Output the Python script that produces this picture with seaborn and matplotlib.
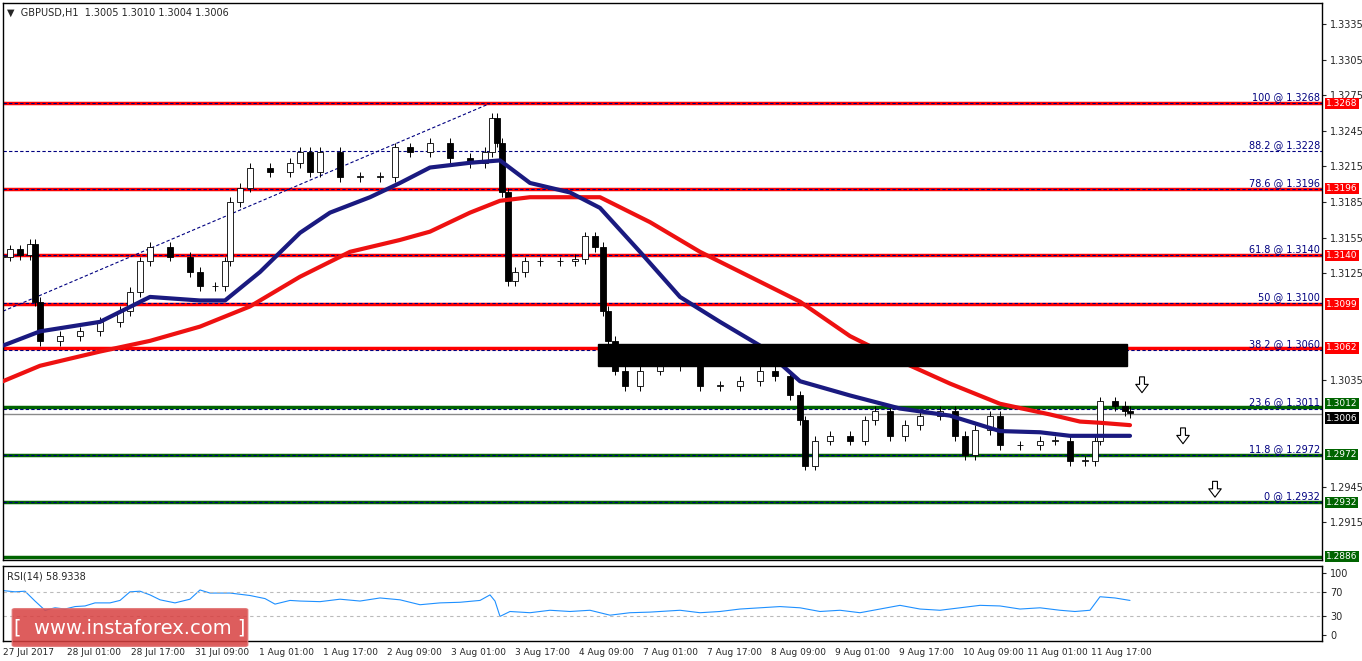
import numpy as np
import pandas as pd
import matplotlib
matplotlib.use("Agg")
import matplotlib.pyplot as plt
from matplotlib.patches import Rectangle, FancyBboxPatch
import seaborn as sns

sns.set_style("white")
plt.rcParams['font.family'] = ['DejaVu Sans']

# ---- data (x in hourly bars from 27 Jul 2017) ----
price_px_x = [3,10,20,30,35,40,60,80,100,120,130,140,150,170,190,200,215,225,230,240,250,270,290,300,310,320,340,360,380,395,410,430,450,470,485,492,497,502,508,515,525,540,560,575,585,595,603,608,615,625,640,660,680,700,720,740,760,775,790,800,805,815,830,850,865,875,890,905,920,940,955,965,975,990,1000,1020,1040,1055,1070,1085,1095,1100,1115,1125,1130]
closes = [1.3139,1.3145,1.3140,1.3150,1.3101,1.3068,1.3072,1.3076,1.3084,1.3093,1.3109,1.3135,1.3147,1.3139,1.3126,1.3114,1.3114,1.3135,1.3185,1.3197,1.3214,1.3210,1.3218,1.3227,1.3210,1.3227,1.3206,1.3206,1.3206,1.3231,1.3227,1.3235,1.3222,1.3218,1.3227,1.3256,1.3235,1.3193,1.3118,1.3126,1.3135,1.3135,1.3135,1.3137,1.3156,1.3147,1.3093,1.3068,1.3043,1.3030,1.3043,1.3051,1.3047,1.3030,1.3030,1.3034,1.3043,1.3038,1.3022,1.3001,1.2963,1.2984,1.2988,1.2984,1.3001,1.3009,1.2988,1.2997,1.3005,1.3009,1.2988,1.2972,1.2993,1.3005,1.2980,1.2980,1.2984,1.2984,1.2967,1.2967,1.2984,1.3017,1.3013,1.3009,1.3007]
ma_blue_x = [3,40,100,150,200,225,260,300,330,370,400,430,470,500,530,570,600,640,680,720,760,800,850,900,950,1000,1040,1070,1100,1130]
ma_blue = [1.3064,1.3076,1.3084,1.3105,1.3102,1.3102,1.3126,1.3159,1.3176,1.3189,1.3201,1.3214,1.3218,1.3220,1.3201,1.3193,1.3180,1.3143,1.3105,1.3084,1.3064,1.3034,1.3022,1.3011,1.3005,1.2992,1.2991,1.2988,1.2988,1.2988]
ma_red_x = [3,40,100,150,200,250,300,350,400,430,470,500,530,570,600,650,700,750,800,850,900,950,1000,1050,1080,1100,1130]
ma_red = [1.3034,1.3047,1.3059,1.3068,1.3080,1.3097,1.3122,1.3143,1.3153,1.3160,1.3176,1.3186,1.3189,1.3189,1.3189,1.3168,1.3143,1.3122,1.3101,1.3072,1.3051,1.3032,1.3015,1.3006,1.3000,1.2999,1.2997]
rsi_px_x = [3,15,25,35,45,55,65,75,85,95,110,120,130,140,150,160,175,190,200,210,230,250,265,275,290,300,320,340,360,380,400,420,440,460,480,490,495,500,510,530,550,570,590,600,610,620,630,650,680,700,720,740,760,780,800,820,840,860,880,900,920,940,960,980,1000,1020,1040,1060,1075,1090,1100,1115,1130]
rsi = [72,70,71,55,40,44,42,46,47,52,52,56,70,71,65,57,52,58,73,68,68,64,59,50,56,55,54,58,55,60,57,49,52,53,56,65,55,30,38,36,40,38,40,36,32,34,36,37,40,36,38,42,44,46,44,38,40,36,42,48,42,40,44,48,47,42,44,40,38,40,62,60,56]
tick_labels = ["27 Jul 2017","28 Jul 01:00","28 Jul 17:00","31 Jul 09:00","1 Aug 01:00","1 Aug 17:00","2 Aug 09:00","3 Aug 01:00","3 Aug 17:00","4 Aug 09:00","7 Aug 01:00","7 Aug 17:00","8 Aug 09:00","9 Aug 01:00","9 Aug 17:00","10 Aug 09:00","11 Aug 01:00","11 Aug 17:00"]
red_levels = [1.3268,1.3196,1.3140,1.3099,1.3062]
green_levels = [1.3012,1.2972,1.2932,1.2886]
fib_levels = [1.3268,1.3228,1.3196,1.3140,1.3100,1.3060,1.3011,1.2972,1.2932]
fib_pcts = ["100","88.2","78.6","61.8","50","38.2","23.6","11.8","0"]
last_price = 1.3006

bar = lambda px: (np.asarray(px) - 3) / 4.0
W, H = 1362, 661
fig = plt.figure(figsize=(W/100, H/100), dpi=100)
ax = fig.add_axes([3/W, 1-560/H, 1319/W, 557/H])
ax2 = fig.add_axes([3/W, 1-641/H, 1319/W, 75/H])
XMAX = 329.75

# candles
xb = bar(price_px_x)
opens = [closes[0]] + closes[:-1]
for x, o, c in zip(xb, opens, closes):
    lo, hi = min(o, c), max(o, c)
    ax.vlines(x, lo - 0.0004, hi + 0.0004, color="black", lw=0.7, zorder=3)
    ax.add_patch(Rectangle((x-0.7, lo), 1.4, max(hi-lo, 0.00005),
                           facecolor="white" if c >= o else "black", edgecolor="black", lw=0.6, zorder=4))

df_b = pd.DataFrame({"x": bar(ma_blue_x), "y": ma_blue})
df_r = pd.DataFrame({"x": bar(ma_red_x), "y": ma_red})
sns.lineplot(data=df_r, x="x", y="y", ax=ax, color="#ee1111", lw=3, zorder=5)
sns.lineplot(data=df_b, x="x", y="y", ax=ax, color="#1a1a80", lw=3, zorder=6)

for lv in red_levels:
    ax.axhline(lv, color="#ff0000", lw=2.5, zorder=2)
for lv in green_levels:
    ax.axhline(lv, color="#006400", lw=2.5, zorder=2)
ax.axhline(last_price, color="#8a8a8a", lw=1, zorder=1)
for lv, p in zip(fib_levels, fib_pcts):
    ax.axhline(lv, color="#000080", lw=0.8, ls=(0, (3, 2)), zorder=2)
    ax.text(bar(1320), lv + 0.0001, f"{p} @ {lv:.4f}", ha="right", va="bottom", fontsize=7, color="#000080", zorder=8)
ax.plot(bar([3, 490]), [1.3093, 1.3268], color="#000080", lw=0.8, ls=(0, (3, 2)))

ax.add_patch(Rectangle((bar(598), 1.30468), bar(1127)-bar(598), 1.30652-1.30468, color="black", zorder=7))

# arrows
for px, py in [(1142, 1.3030), (1183, 1.2987), (1215, 1.2942)]:
    ax.annotate("", xy=(bar(px), py - 0.0008), xytext=(bar(px), py + 0.0010),
                arrowprops=dict(arrowstyle="simple,head_width=0.9,head_length=0.6,tail_width=0.35",
                                facecolor="white", edgecolor="black", lw=0.8))

ax.set_xlim(0, XMAX)
ax.set_ylim(1.28834, 1.33526)
ax.set_xticks([])
ax.yaxis.tick_right()
yt = [1.3335,1.3305,1.3275,1.3245,1.3215,1.3185,1.3155,1.3125,1.3035,1.2945,1.2915]
ax.set_yticks(yt)
ax.set_yticklabels([f"{v:.4f}" for v in yt], fontsize=7)
ax.tick_params(axis="y", length=3, pad=3)
ax.set_xlabel(""); ax.set_ylabel("")
for lv, col in [(l, "#ff0000") for l in red_levels] + [(l, "#006400") for l in green_levels] + [(last_price, "black")]:
    yy = lv + (0.00035 if lv == 1.3012 else (-0.0003 if lv == last_price else 0))
    ax.text(1.003, yy, f"{lv:.4f}", transform=ax.get_yaxis_transform(), va="center", ha="left",
            fontsize=6.5, color="white", bbox=dict(boxstyle="square,pad=0.12", fc=col, ec="none"), zorder=10, clip_on=False)
ax.text(0.003, 0.992, "▼  GBPUSD,H1  1.3005 1.3010 1.3004 1.3006", transform=ax.transAxes, va="top", fontsize=7)

# RSI
df_rsi = pd.DataFrame({"x": bar(rsi_px_x), "y": rsi})
sns.lineplot(data=df_rsi, x="x", y="y", ax=ax2, color="#1e90ff", lw=0.8)
for lv in (70, 30):
    ax2.axhline(lv, color="#bbbbbb", lw=0.8, ls=(0, (3, 3)))
ax2.set_xlim(0, XMAX)
ax2.set_ylim(-10, 112)
ax2.yaxis.tick_right()
ax2.set_yticks([100, 70, 30, 0])
ax2.set_yticklabels(["100", "70", "30", "0"], fontsize=7)
ax2.set_xticks(np.arange(len(tick_labels)) * 16)
ax2.set_xticklabels(tick_labels, fontsize=6.5, ha="left")
ax2.tick_params(axis="x", length=3, pad=2)
ax2.tick_params(axis="y", length=3, pad=3)
ax2.set_xlabel(""); ax2.set_ylabel("")
ax2.text(0.003, 0.93, "RSI(14) 58.9338", transform=ax2.transAxes, va="top", fontsize=7)
for a in (ax, ax2):
    for s in a.spines.values():
        s.set_color("black"); s.set_linewidth(1)

# watermark
fig.patches.append(FancyBboxPatch((15/W, 1-645/H), 230/W, 35/H, boxstyle="round,pad=0.002",
                                  transform=fig.transFigure, fc="#d84040", ec="#e07070", alpha=0.85, zorder=20))
fig.text(130/W, 1-628/H, "[  www.instaforex.com ]", ha="center", va="center", color="white", fontsize=14, zorder=21)

fig.savefig("out.png", dpi=100, facecolor="white")
